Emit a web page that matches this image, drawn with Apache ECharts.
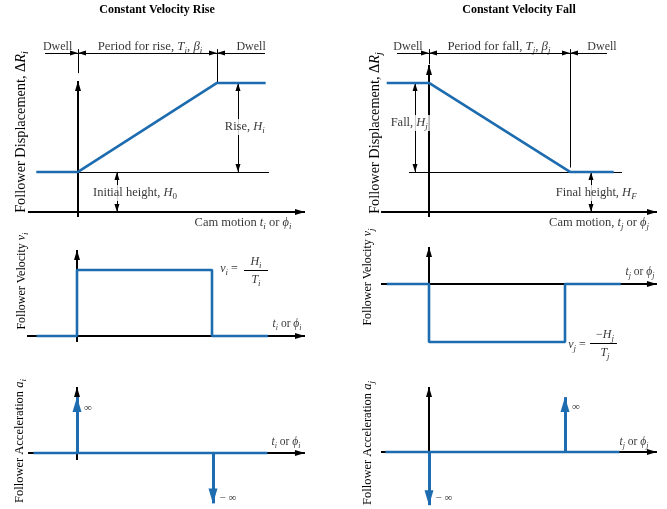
<!DOCTYPE html>
<html><head><meta charset="utf-8">
<script src="https://cdn.jsdelivr.net/npm/echarts@6/dist/echarts.min.js"></script>
<style>html,body{margin:0;padding:0;background:#fff}#c{width:667px;height:509px}</style>
</head><body><div id="c"></div>
<script>
// ---------------- data (schematic units: T = 1, H = 1, v = H/T = 1, impulse = 1) ----------------
// Constant velocity rise: follower displacement
const riseDispT = [-0.3, 0, 1, 1.35];
const riseDispY = [0.45, 0.45, 1.45, 1.45];      // H0 = 0.45, H0 + Hi = 1.45
// Constant velocity fall: follower displacement
const fallDispT = [-0.3, 0, 1, 1.31];
const fallDispY = [1.45, 1.45, 0.45, 0.45];      // HF = 0.45
// Velocity
const riseVelT = [-0.3, 0, 0, 1, 1, 1.415];
const riseVelY = [0, 0, 1, 1, 0, 0];
const fallVelT = [-0.31, 0, 0, 1, 1, 1.41];
const fallVelY = [0, 0, -1, -1, 0, 0];
// Acceleration (zero line + impulses)
const riseAccT = [-0.32, 1.4];
const riseAccY = [0, 0];
const riseImpT = [0, 1];
const riseImpY = [1, -0.9];
const fallAccT = [-0.32, 1.4];
const fallAccY = [0, 0];
const fallImpT = [0, 1];
const fallImpY = [-0.95, 0.98];

// ---------------- styles / layout ----------------
const BLUE = '#1d6cb0';
const INK = '#000';
const SERIF = '"Liberation Serif","Times New Roman",serif';

const layout = {
  TL: {rect: [0, 28, 334, 202],  origin: [78, 212],  scale: [139, 89]},
  TR: {rect: [334, 28, 333, 202], origin: [429, 212], scale: [141, 89]},
  ML: {rect: [0, 232, 334, 136], origin: [77, 336],  scale: [135, 66]},
  MR: {rect: [334, 232, 333, 136], origin: [429, 284], scale: [136, 58]},
  BL: {rect: [0, 372, 334, 137], origin: [77, 453],  scale: [136, 56]},
  BR: {rect: [334, 372, 333, 137], origin: [429, 452], scale: [136, 56]}
};

function richStyles(size) {
  const sub = Math.round(size * 0.72);
  const pad = Math.round(size * 0.58);
  return {
    i: {fontFamily: SERIF, fontSize: size, fontStyle: 'italic', color: INK, fill: INK},
    s: {fontFamily: SERIF, fontSize: sub, fontStyle: 'italic', color: INK, fill: INK, padding: [pad, 0, 0, 0]},
    r: {fontFamily: SERIF, fontSize: sub, color: INK, fill: INK, padding: [pad, 0, 0, 0]}
  };
}

const AX = {lineStyle: {color: INK, width: 2, type: 'solid'}, size: [6, 10]};
const TH = {lineStyle: {color: INK, width: 1, type: 'solid'}};
const DIM = {lineStyle: {color: INK, width: 1, type: 'solid'}, size: [5, 8]};

function seg(a, b, kind, s0, s1) {
  return [
    {coord: a, symbol: s0 || 'none', symbolSize: kind.size || 1, symbolOffset: [0, '50%'], lineStyle: kind.lineStyle},
    {coord: b, symbol: s1 || 'none', symbolSize: kind.size || 1, symbolOffset: [0, '50%']}
  ];
}
const axisSeg = (a, b) => seg(a, b, AX, 'none', 'triangle');
const thin = (a, b) => seg(a, b, TH);
const dimEnd = (a, b) => seg(a, b, DIM, 'none', 'triangle');
const dimBoth = (a, b) => seg(a, b, DIM, 'triangle', 'triangle');

function pairs(a, b) { return a.map((v, i) => [v, b[i]]); }

const grids = [], xAxes = [], yAxes = [], series = [];

function addPanel(key, blue, frame, impulses, labels) {
  const idx = grids.length;
  const p = layout[key];
  const [l, t, w, h] = p.rect, [ox, oy] = p.origin, [sx, sy] = p.scale;
  grids.push({left: l, top: t, width: w, height: h});
  xAxes.push({type: 'value', gridIndex: idx, show: false, min: (l - ox) / sx, max: (l + w - ox) / sx});
  yAxes.push({type: 'value', gridIndex: idx, show: false, min: (oy - (t + h)) / sy, max: (oy - t) / sy});
  // black frame / dimension lines
  series.push({
    type: 'line', xAxisIndex: idx, yAxisIndex: idx, data: [[0, 0]], showSymbol: false, silent: true,
    lineStyle: {opacity: 0}, z: 1,
    markLine: {silent: true, z: 1, animation: false, label: {show: false}, symbol: 'none', data: frame}
  });
  // blue curve
  const bl = {
    type: 'line', xAxisIndex: idx, yAxisIndex: idx, data: pairs(blue[0], blue[1]),
    showSymbol: false, silent: true, z: 3,
    lineStyle: {color: BLUE, width: 2.6}
  };
  if (impulses) {
    bl.markLine = {
      silent: true, z: 4, animation: false, label: {show: false},
      data: impulses[0].map((x, i) => seg([x, 0], [x, impulses[1][i]],
        {lineStyle: {color: BLUE, width: 3, type: 'solid'}, size: [9, 15]}, 'none', 'triangle'))
    };
  }
  series.push(bl);
  // text labels
  series.push({
    type: 'scatter', xAxisIndex: idx, yAxisIndex: idx, symbolSize: 0, silent: true, z: 6,
    label: {show: true, position: 'inside', formatter: q => q.name, fontFamily: SERIF, fontSize: 12, color: INK, rich: richStyles(12)},
    data: labels.map(o => {
      const d = {name: o.text, value: o.at};
      const lab = {};
      if (o.size) { lab.fontSize = o.size; lab.rich = richStyles(o.size); }
      if (o.bg) { lab.backgroundColor = '#fff'; lab.padding = [0, 2]; }
      d.label = lab;
      return d;
    })
  });
}

// ---- Constant velocity rise: displacement ----
addPanel('TL', [riseDispT, riseDispY], [
  axisSeg([-0.36, 0], [1.633, 0]),
  axisSeg([0, -0.056], [0, 1.472]),
  thin([0, 0.45], [1.374, 0.45]),
  thin([0, 1.56], [0, 1.83]),
  thin([1, 1.46], [1, 1.83]),
  dimEnd([-0.237, 1.787], [0, 1.787]),
  dimBoth([0, 1.787], [1, 1.787]),
  dimEnd([1.345, 1.787], [1, 1.787]),
  dimBoth([1.151, 0.45], [1.151, 1.45]),
  dimBoth([0.28, 0], [0.28, 0.45])
], null, [
  {at: [-0.147, 1.854], text: 'Dwell'},
  {at: [0.518, 1.854], text: 'Period for rise, {i|T}{s|i}, {i|β}{s|i}', size: 12.8},
  {at: [1.245, 1.854], text: 'Dwell'},
  {at: [1.20, 0.955], text: 'Rise, {i|H}{s|i}', bg: true, size: 12.5},
  {at: [0.41, 0.213], text: 'Initial height, {i|H}{r|0}', bg: true, size: 12.5},
  {at: [1.187, -0.124], text: 'Cam motion {i|t}{s|i} or {i|ϕ}{s|i}', size: 12.5}
]);

// ---- Constant velocity fall: displacement ----
addPanel('TR', [fallDispT, fallDispY], [
  axisSeg([-0.34, 0], [1.617, 0]),
  axisSeg([0, -0.056], [0, 1.652]),
  thin([-0.142, 0.45], [1.369, 0.45]),
  thin([0, 1.66], [0, 1.83]),
  thin([1, 0.5], [1, 1.83]),
  dimEnd([-0.227, 1.787], [0, 1.787]),
  dimBoth([0, 1.787], [1, 1.787]),
  dimEnd([1.262, 1.787], [1, 1.787]),
  dimBoth([-0.099, 0.45], [-0.099, 1.45]),
  dimBoth([1.149, 0], [1.149, 0.45])
], null, [
  {at: [-0.149, 1.854], text: 'Dwell'},
  {at: [0.496, 1.854], text: 'Period for fall, {i|T}{s|j}, {i|β}{s|j}', size: 12.8},
  {at: [1.227, 1.854], text: 'Dwell'},
  {at: [-0.14, 1.0], text: 'Fall, {i|H}{s|j}', bg: true, size: 12.5},
  {at: [1.186, 0.213], text: 'Final height, {i|H}{s|F}', bg: true, size: 12.5},
  {at: [1.206, -0.124], text: 'Cam motion, {i|t}{s|j} or {i|ϕ}{s|j}', size: 12.5}
]);

// ---- velocity rise ----
addPanel('ML', [riseVelT, riseVelY], [
  axisSeg([-0.37, 0], [1.689, 0]),
  axisSeg([0, -0.091], [0, 1.303]),
  thin([1.237, 1.0], [1.415, 1.0])
], null, [
  {at: [1.126, 1.015], text: '{i|v}{s|i} ='},
  {at: [1.326, 1.121], text: '{i|H}{s|i}'},
  {at: [1.326, 0.848], text: '{i|T}{s|i}'},
  {at: [1.556, 0.182], text: '{i|t}{s|i} or {i|ϕ}{s|i}', size: 11.5}
]);

// ---- velocity fall ----
addPanel('MR', [fallVelT, fallVelY], [
  axisSeg([-0.353, 0], [1.676, 0]),
  axisSeg([0, 0], [0, 0.638]),
  thin([1.184, -1.017], [1.382, -1.017])
], null, [
  {at: [1.088, -1.052], text: '{i|v}{s|j} ='},
  {at: [1.294, -0.879], text: '−{i|H}{s|j}'},
  {at: [1.294, -1.19], text: '{i|T}{s|j}'},
  {at: [1.551, 0.207], text: '{i|t}{s|j} or {i|ϕ}{s|j}', size: 11.5}
]);

// ---- acceleration rise ----
addPanel('BL', [riseAccT, riseAccY], [
  axisSeg([-0.36, 0], [1.676, 0]),
  axisSeg([0, -0.125], [0, 1.179])
], [riseImpT, riseImpY], [
  {at: [0.081, 0.804], text: '∞', size: 11},
  {at: [1.11, -0.804], text: '− ∞', size: 11},
  {at: [1.537, 0.196], text: '{i|t}{s|i} or {i|ϕ}{s|i}', size: 11.5}
]);

// ---- acceleration fall ----
addPanel('BR', [fallAccT, fallAccY], [
  axisSeg([-0.353, 0], [1.676, 0]),
  axisSeg([0, 0], [0, 1.16])
], [fallImpT, fallImpY], [
  {at: [1.081, 0.804], text: '∞', size: 11},
  {at: [0.11, -0.82], text: '− ∞', size: 11},
  {at: [1.507, 0.179], text: '{i|t}{s|j} or {i|ϕ}{s|j}', size: 11.5}
]);

function gText(x, y, text, size, opts) {
  opts = opts || {};
  return {
    type: 'text', x: x, y: y, rotation: opts.rot || 0, silent: true,
    style: {
      text: text, fontFamily: SERIF, fontSize: size, fontWeight: opts.bold ? 'bold' : 'normal',
      fill: INK, align: 'center', verticalAlign: 'middle', textAlign: 'center', textVerticalAlign: 'middle',
      rich: richStyles(size)
    }
  };
}

const option = {
  animation: false,
  backgroundColor: '#fff',
  grid: grids, xAxis: xAxes, yAxis: yAxes, series: series,
  graphic: [
    gText(157, 10, 'Constant Velocity Rise', 12, {bold: true}),
    gText(519, 10, 'Constant Velocity Fall', 12, {bold: true}),
    gText(21, 132, 'Follower Displacement, Δ{i|R}{s|i}', 14.3, {rot: Math.PI / 2}),
    gText(375, 133, 'Follower Displacement, Δ{i|R}{s|j}', 14.3, {rot: Math.PI / 2}),
    gText(22, 281, 'Follower Velocity {i|v}{s|i}', 12, {rot: Math.PI / 2}),
    gText(368, 277, 'Follower Velocity {i|v}{s|j}', 12, {rot: Math.PI / 2}),
    gText(20, 441, 'Follower Acceleration {i|a}{s|i}', 12.5, {rot: Math.PI / 2}),
    gText(368, 443, 'Follower Acceleration {i|a}{s|j}', 12.5, {rot: Math.PI / 2})
  ]
};

const chart = echarts.init(document.getElementById('c'), null, {renderer: 'canvas'});
chart.setOption(option);
</script></body></html>
